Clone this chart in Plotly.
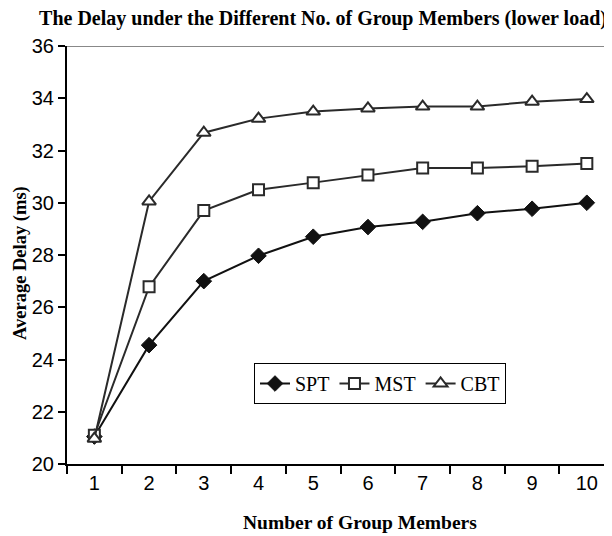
import plotly.graph_objects as go

members = ["1", "2", "3", "4", "5", "6", "7", "8", "9", "10"]
spt = [21.05, 24.55, 27.0, 27.97, 28.7, 29.07, 29.27, 29.6, 29.77, 30.0]
mst = [21.1, 26.78, 29.7, 30.5, 30.77, 31.06, 31.33, 31.33, 31.4, 31.5]
cbt = [20.97, 30.05, 32.68, 33.22, 33.49, 33.61, 33.68, 33.68, 33.87, 33.97]
y_ticks = [20, 22, 24, 26, 28, 30, 32, 34, 36]

serif = "Liberation Serif, Times New Roman, serif"
sans = "Liberation Sans, Arial, sans-serif"
line_col = "#2a2a2a"

W, H = 604, 528  # page body adds an 8px offset
L, T, B = 59, 38, 72

fig = go.Figure()
fig.add_trace(go.Scatter(
    x=members, y=spt, name="SPT", mode="lines+markers",
    line=dict(color="#111111", width=2),
    marker=dict(symbol="diamond", size=12, color="#111111",
                line=dict(color="#111111", width=1)),
))
fig.add_trace(go.Scatter(
    x=members, y=mst, name="MST", mode="lines+markers",
    line=dict(color=line_col, width=2),
    marker=dict(symbol="square", size=11, color="white",
                line=dict(color=line_col, width=2)),
))
fig.add_trace(go.Scatter(
    x=members, y=cbt, name="CBT", mode="lines+markers",
    line=dict(color=line_col, width=2),
    marker=dict(symbol="triangle-up", size=12, color="white",
                line=dict(color=line_col, width=2)),
))

plot_w = W - L
plot_h = H - T - B

fig.update_layout(
    width=W, height=H,
    margin=dict(l=L, r=0, t=T, b=B),
    paper_bgcolor="white", plot_bgcolor="white",
    showlegend=True,
    title=dict(
        text="<b>The Delay under the Different No. of Group Members (lower load)</b>",
        x=315 / W, xanchor="center", y=1 - 10 / H, yanchor="middle",
        font=dict(family=serif, size=20, color="black"),
    ),
    legend=dict(
        orientation="h", x=(254 - 67) / plot_w, y=(464 - 363) / plot_h,
        xanchor="left", yanchor="top",
        bordercolor="black", borderwidth=1, bgcolor="white",
        font=dict(family=serif, size=20, color="black"),
        itemwidth=30, tracegroupgap=0,
    ),
    xaxis=dict(
        type="category", range=[-0.5, 9.46],
        showline=True, linecolor="black", linewidth=2,
        ticks="outside", tickson="boundaries", ticklen=8, tickwidth=1.5, tickcolor="black",
        showgrid=False, zeroline=False,
        tickfont=dict(family=sans, size=20, color="black"),
    ),
    yaxis=dict(
        range=[20, 36], tickvals=y_ticks,
        showline=True, linecolor="black", linewidth=2,
        ticks="outside", ticklen=7, tickwidth=1.5, tickcolor="black",
        showgrid=False, zeroline=False,
        tickfont=dict(family=sans, size=20, color="black"),
    ),
    annotations=[
        dict(text="<b>Number of Group Members</b>", xref="paper", yref="paper",
             x=(360 - 67) / plot_w, y=-(522 - 464) / plot_h,
             xanchor="center", yanchor="middle", showarrow=False,
             font=dict(family=serif, size=19.5, color="black")),
        dict(text="<b>Average Delay (ms)</b>", xref="paper", yref="paper",
             x=-(67 - 20) / plot_w, y=(464 - 263) / plot_h, textangle=-90,
             xanchor="center", yanchor="middle", showarrow=False,
             font=dict(family=serif, size=18.5, color="black")),
    ],
    shapes=[dict(type="line", xref="paper", yref="y", x0=0, x1=1, y0=36, y1=36,
                 line=dict(color="#888888", width=2))],
)

fig.write_html("out.html")
